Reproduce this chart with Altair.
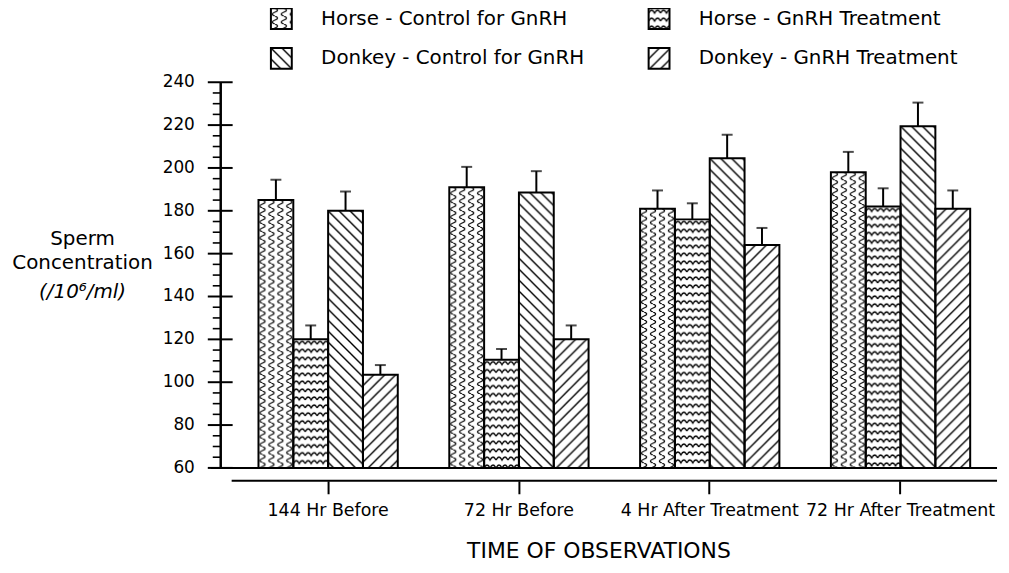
import altair as alt
import pandas as pd
from urllib.parse import quote

# ---------------- data ----------------
times = ["144 Hr Before", "72 Hr Before", "4 Hr After Treatment", "72 Hr After Treatment"]
series = ["Horse - Control for GnRH", "Horse - GnRH Treatment",
          "Donkey - Control for GnRH", "Donkey - GnRH Treatment"]

horse_control = [185, 191, 181, 198]
horse_gnrh = [120, 110.5, 176, 182]
donkey_control = [180, 188.5, 204.5, 219.5]
donkey_gnrh = [103.5, 120, 164, 181]

horse_control_err = [9.5, 9.5, 8.5, 9.5]
horse_gnrh_err = [6.5, 5, 7.5, 8.5]
donkey_control_err = [9, 10, 11, 11]
donkey_gnrh_err = [4.5, 6.5, 8, 8.5]

y_major = [60, 80, 100, 120, 140, 160, 180, 200, 220, 240]
y_minor = [65, 70, 75, 85, 90, 95, 105, 110, 115, 125, 130, 135, 145, 150, 155,
           165, 170, 175, 185, 190, 195, 205, 210, 215, 225, 230, 235]

legend_col = [0, 1, 0, 1]
legend_row = [0, 0, 1, 1]

ytitle_lines = ["Sperm", "Concentration", "(/10\u2076/ml)"]
xtitle = "TIME OF OBSERVATIONS"

# ---------------- patterns (style) ----------------
def pattern_uri(w, h, d, sw=1.4):
    svg = ("<svg xmlns='http://www.w3.org/2000/svg' width='100%' height='100%'>"
           f"<defs><pattern id='p' patternUnits='userSpaceOnUse' width='{w}' height='{h}'>"
           f"<path d='{d}' fill='none' stroke='black' stroke-width='{sw}'/></pattern></defs>"
           "<rect width='100%' height='100%' fill='white'/>"
           "<rect width='100%' height='100%' fill='url(#p)'/></svg>")
    return "data:image/svg+xml," + quote(svg)

patterns = {
    series[0]: pattern_uri(9, 8, "M4,0 C7.5,1.2 7.5,2.8 4,4 C0.5,5.2 0.5,6.8 4,8", sw=1.3),
    series[1]: pattern_uri(12, 8, "M0,5 Q3,-1 6,5 Q9,-1 12,5", sw=1.3),
    series[2]: pattern_uri(11, 11, "M-1,-1 L12,12 M-1,10 L1,12 M10,-1 L12,1"),
    series[3]: pattern_uri(11, 11, "M-1,12 L12,-1 M-1,1 L1,-1 M10,12 L12,10"),
}

# ---------------- tables ----------------
means = [horse_control, horse_gnrh, donkey_control, donkey_gnrh]
errs = [horse_control_err, horse_gnrh_err, donkey_control_err, donkey_gnrh_err]
rows = []
for s, m, e in zip(series, means, errs):
    for t, v, ev in zip(times, m, e):
        rows.append({"time": t, "series": s, "value": v, "hi": v + ev, "url": patterns[s]})
df = pd.DataFrame(rows)

legend_df = pd.DataFrame({"series": series, "col": legend_col, "row": legend_row,
                          "url": [patterns[s] for s in series]})
major_df = pd.DataFrame({"v": y_major})
minor_df = pd.DataFrame({"v": y_minor})
one_df = pd.DataFrame({"k": [0]})

W, H = 781, 388
FONT = "DejaVu Sans"

x_enc = alt.X("time:N", sort=times,
              scale=alt.Scale(range=[38, 754], paddingInner=0.27, paddingOuter=0),
              axis=alt.Axis(orient="bottom", offset=13, domain=False, ticks=True,
                            tickSize=13, tickWidth=2, tickColor="black", grid=False,
                            labelAngle=0, labelFontSize=17.5, labelFont=FONT,
                            labelColor="black", labelPadding=8, labelLimit=400,
                            title=xtitle, titleFont=FONT, titleFontSize=22,
                            titleFontWeight="normal", titleColor="black",
                            titlePadding=22, titleX=380, titleAnchor="middle"))
xo_enc = alt.XOffset("series:N", sort=series,
                     scale=alt.Scale(paddingInner=0, paddingOuter=0))
y_scale = alt.Scale(domain=[60, 240], nice=False, zero=False)
y_enc = alt.Y("value:Q", scale=y_scale, axis=None)

base = alt.Chart(df)
img = base.mark_image(aspect=False).encode(
    x=x_enc, xOffset=xo_enc, y=y_enc, y2=alt.Y2(datum=60), url="url:N")
bars = base.mark_bar(fillOpacity=0, stroke="black", strokeWidth=2).encode(
    x=x_enc, xOffset=xo_enc, y=y_enc, y2=alt.Y2(datum=60))
err_line = base.mark_rule(color="black", strokeWidth=2).encode(
    x=x_enc, xOffset=xo_enc, y=y_enc, y2="hi:Q")
err_cap = base.mark_tick(color="black", thickness=2, size=11, orient="horizontal").encode(
    x=x_enc, xOffset=xo_enc, y=alt.Y("hi:Q", scale=y_scale, axis=None))

# hand-drawn y axis (crossing major ticks, minor ticks on the left)
yv = alt.Y("v:Q", scale=y_scale, axis=None)
major_ticks = alt.Chart(major_df).mark_rule(color="black", strokeWidth=2).encode(
    y=yv, x=alt.value(-13), x2=alt.value(12))
major_labels = alt.Chart(major_df).mark_text(
    align="right", baseline="middle", fontSize=17, font=FONT, color="black"
).encode(y=yv, x=alt.value(-26), text="v:Q")
minor = alt.Chart(minor_df).mark_rule(color="black", strokeWidth=1.6).encode(
    y=yv, x=alt.value(-8), x2=alt.value(0))
y_domain = alt.Chart(one_df).mark_rule(color="black", strokeWidth=2.5).encode(
    x=alt.value(0), y=alt.Y(datum=y_major[0], scale=y_scale, axis=None),
    y2=alt.Y2(datum=y_major[-1]))
baseline = alt.Chart(one_df).mark_rule(color="black", strokeWidth=2).encode(
    y=alt.Y(datum=60, scale=y_scale, axis=None), x=alt.value(-10), x2=alt.value(W))
lower_line = alt.Chart(one_df).mark_rule(color="black", strokeWidth=2).encode(
    y=alt.value(H + 13), x=alt.value(11), x2=alt.value(W))

main = alt.layer(img, bars, err_line, err_cap, major_ticks, major_labels, minor,
                 y_domain, baseline, lower_line)

# ---------------- legend ----------------
lx = alt.X("col:Q", scale=alt.Scale(domain=[0, 1], range=[61, 441]), axis=None)
ly = alt.Y("row:Q", scale=alt.Scale(domain=[0, 1], range=[-64, -24]), axis=None)
leg_base = alt.Chart(legend_df)
leg_img = leg_base.mark_image(width=21, height=21, aspect=False, align="center",
                              baseline="middle").encode(x=lx, y=ly, url="url:N")
leg_box = leg_base.mark_point(shape="square", size=21 * 21, filled=False, color="black",
                              strokeWidth=2, opacity=1).encode(x=lx, y=ly)
leg_txt = leg_base.mark_text(align="left", baseline="middle", dx=40, fontSize=20,
                             font=FONT, color="black").encode(x=lx, y=ly, text="series:N")
legend = alt.layer(leg_img, leg_box, leg_txt)

# ---------------- y title ----------------
def ttl(txt, y, italic=False):
    kw = dict(align="center", baseline="alphabetic", fontSize=20, font=FONT, color="black")
    if italic:
        kw["fontStyle"] = "italic"
    return alt.Chart(pd.DataFrame({"t": [txt]})).mark_text(**kw).encode(
        text="t:N", x=alt.value(-139), y=alt.value(y))

yt1 = ttl(ytitle_lines[0], 164)
yt2 = ttl(ytitle_lines[1], 188)
yt3 = ttl(ytitle_lines[2], 217, italic=True)

chart = alt.layer(main, legend, yt1, yt2, yt3).resolve_scale(
    x="independent", y="independent"
).properties(
    width=W, height=H,
    autosize=alt.AutoSizeParams(type="none"),
    padding={"left": 214, "top": 73, "right": 4, "bottom": 100},
).configure(background="white", view=alt.ViewConfig(strokeWidth=0))

chart.save("out.html", embed_options={"renderer": "svg", "actions": False})
